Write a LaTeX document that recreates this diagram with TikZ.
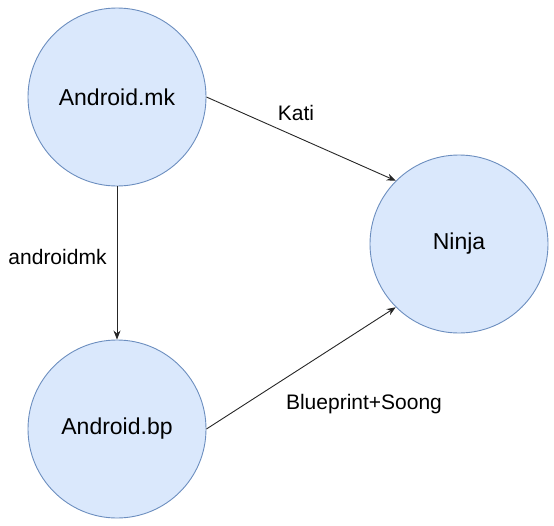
\documentclass[tikz,border=0pt]{standalone}
\usepackage{fontspec}
\setmainfont{Liberation Sans}
\usetikzlibrary{arrows.meta}
\definecolor{nodefill}{HTML}{DAE8FC}
\definecolor{nodeline}{HTML}{6C8EBF}
\tikzset{
  blob/.style={circle, draw=nodeline, fill=nodefill, line width=0.9pt, minimum size=178pt, inner sep=0pt, font=\fontsize{23}{27}\selectfont},
  lbl/.style={inner sep=0pt, font=\fontsize{21}{25}\selectfont},
  conn/.style={draw=black!85, line width=0.9pt, -{Stealth[length=9pt,width=7pt]}}
}
\begin{document}
\begin{tikzpicture}[x=1pt, y=-1pt]
\useasboundingbox (0,0) rectangle (554,525);
\node[blob] (mk) at (117,97) {Android.mk};
\node[blob] (bp) at (117,429) {Android.bp};
\node[blob] (ninja) at (459,244) {Ninja};
\draw[conn] (mk.east) -- (ninja.135);
\draw[conn] (bp.east) -- (ninja.225);
\draw[conn] (mk.south) -- (bp.north);
\node[lbl] (kati) at (296,113) {Kati};
\node[lbl] (amk) at (57.5,257) {androidmk};
\node[lbl] (bps) at (364,404) {Blueprint+Soong};
\end{tikzpicture}
\end{document}
